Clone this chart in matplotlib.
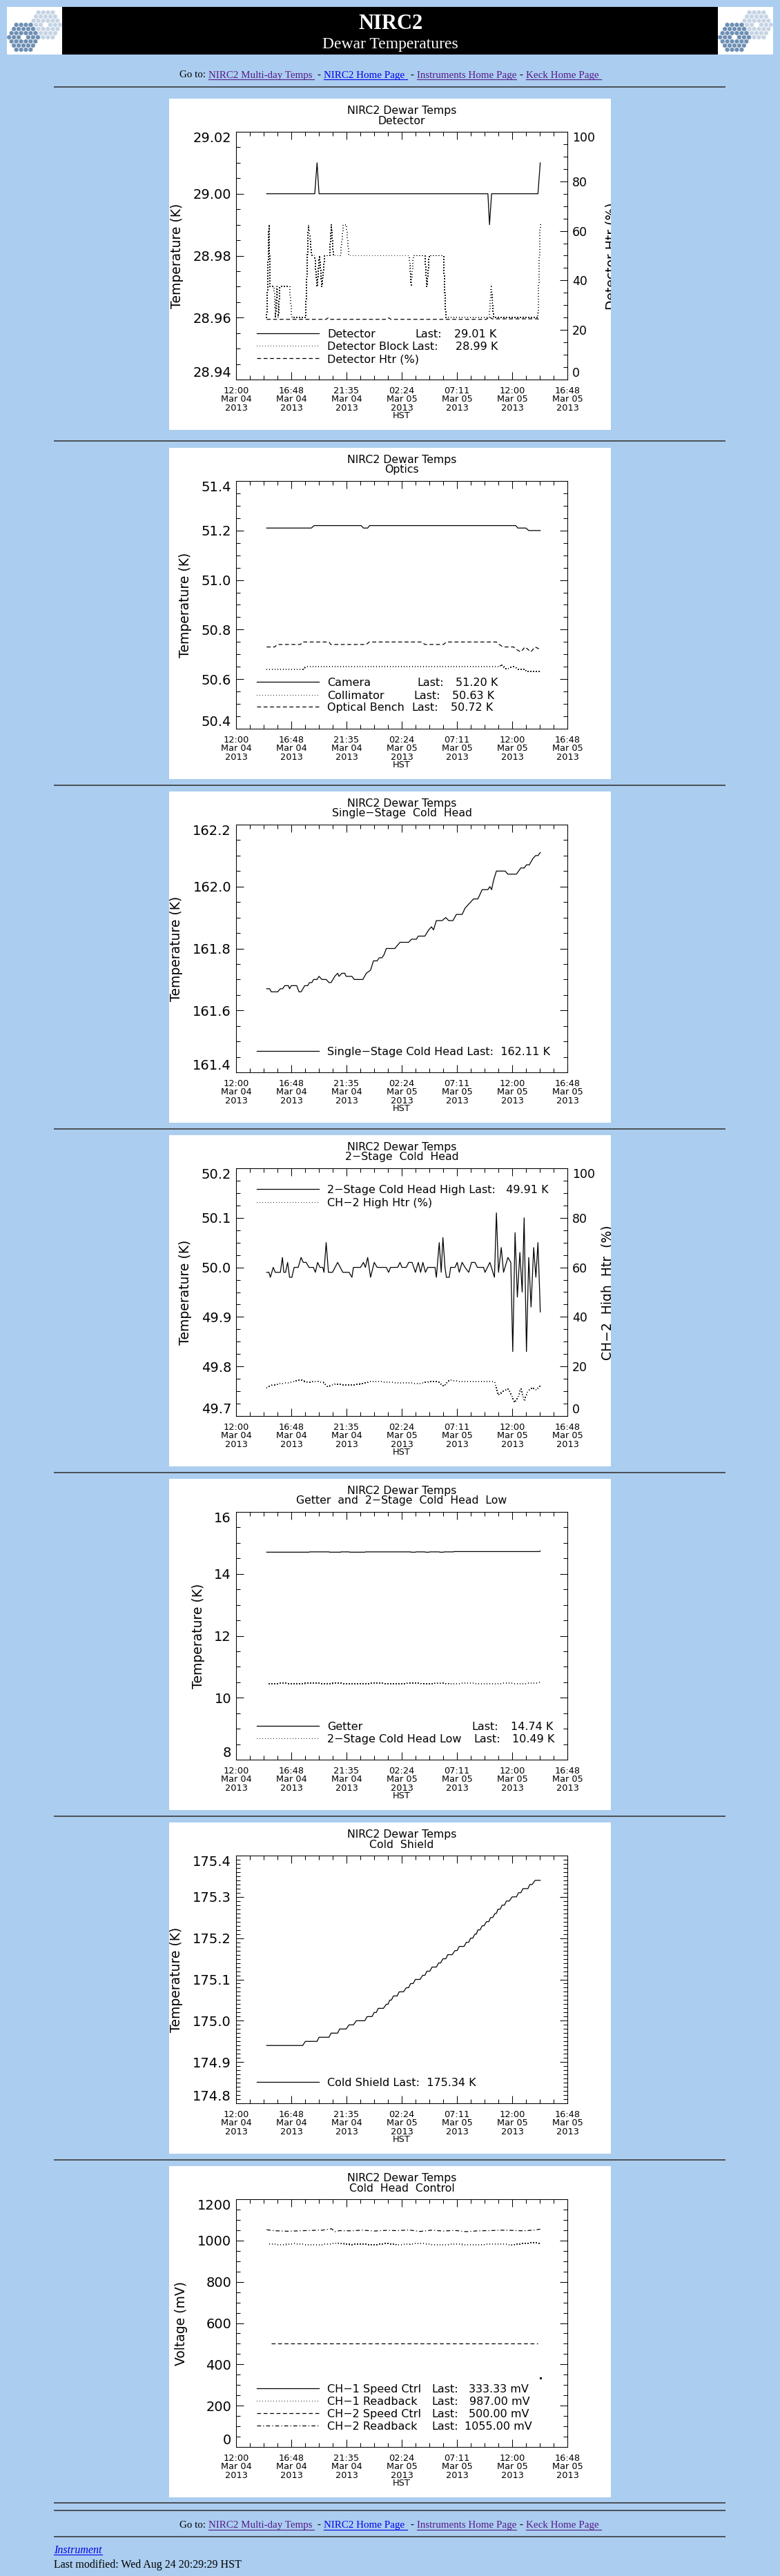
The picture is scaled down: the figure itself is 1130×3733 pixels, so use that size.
import matplotlib
matplotlib.use('Agg')
import matplotlib.pyplot as plt
from matplotlib.patches import Rectangle, RegularPolygon
from matplotlib.ticker import MultipleLocator

# ---- data (hours after 12:00 HST Mar 04 2013) ----
time_ticks = [0, 4.8, 9.6, 14.4, 19.2, 24.0, 28.8]
time_labels = ['12:00\nMar 04\n2013', '16:48\nMar 04\n2013', '21:35\nMar 04\n2013',
               '02:24\nMar 05\n2013', '07:11\nMar 05\n2013', '12:00\nMar 05\n2013',
               '16:48\nMar 05\n2013']
pct_ticks = [0, 20, 40, 60, 80, 100]

# Detector
det_t = [2.66, 6.84, 7.04, 7.21, 21.89, 22.03, 22.21, 26.24, 26.44]
det_v = [29.00, 29.00, 29.01, 29.00, 29.00, 28.99, 29.00, 29.00, 29.01]
blk_t = [2.66, 2.74, 2.86, 2.96, 3.31, 3.43, 3.56, 3.68, 3.81, 4.65, 4.85, 6.04, 6.29,
         6.59, 6.84, 7.04, 7.26, 7.46, 7.71, 8.13, 8.28, 8.46, 9.08, 9.33, 9.57, 9.82,
         15.05, 15.22, 15.42, 16.41, 16.59, 16.79, 18.03, 18.23, 22.01, 22.18, 22.38,
         26.24, 26.44]
blk_v = [28.96, 28.97, 28.99, 28.97, 28.97, 28.96, 28.97, 28.96, 28.97, 28.97, 28.96,
         28.96, 28.99, 28.98, 28.98, 28.97, 28.98, 28.97, 28.98, 28.98, 28.99, 28.98,
         28.98, 28.99, 28.99, 28.98, 28.98, 28.97, 28.98, 28.98, 28.97, 28.98, 28.98,
         28.96, 28.96, 28.97, 28.96, 28.96, 28.99]
dhtr_t = [2.66, 7.83, 8.03, 8.23, 13.06, 13.26, 13.46, 21.76, 22.01, 22.26, 26.24, 26.44]
dhtr_v = [24.3, 24.3, 25.0, 24.3, 24.3, 24.9, 24.3, 24.3, 25.3, 24.5, 24.5, 23.6]

# Optics
cam_t = [2.66, 6.54, 6.79, 10.87, 11.07, 11.44, 11.61, 24.30, 24.50, 25.19, 25.44, 26.44]
cam_v = [51.21, 51.21, 51.22, 51.22, 51.21, 51.21, 51.22, 51.22, 51.21, 51.21, 51.20, 51.20]
col_t = [2.66, 5.79, 6.09, 22.88, 23.05, 23.50, 24.00, 24.20, 24.50, 25.12, 25.29, 26.44]
col_v = [50.64, 50.64, 50.65, 50.65, 50.66, 50.64, 50.65, 50.65, 50.64, 50.64, 50.63, 50.63]
ob_t = [2.66, 3.36, 3.56, 5.60, 5.79, 8.08, 8.23, 11.32, 11.57, 16.17, 16.41, 18.03,
        18.28, 22.63, 22.88, 23.20, 24.12, 24.37, 24.75, 25.12, 25.37, 25.62, 25.99, 26.44]
ob_v = [50.73, 50.73, 50.74, 50.74, 50.75, 50.75, 50.74, 50.74, 50.75, 50.75, 50.74, 50.74,
        50.75, 50.75, 50.74, 50.73, 50.73, 50.72, 50.71, 50.73, 50.72, 50.71, 50.73, 50.72]

# Single-stage cold head
ss_t = [2.66, 2.91, 3.06, 3.61, 3.85, 4.05, 4.23, 4.55, 4.65, 4.80, 5.27, 5.47, 5.65,
        5.97, 6.22, 6.39, 6.59, 6.74, 7.04, 7.21, 7.46, 7.83, 8.08, 8.26, 8.58, 8.83,
        8.95, 9.20, 9.45, 9.57, 10.07, 10.27, 11.02, 11.32, 11.69, 11.94, 12.26, 12.44,
        12.68, 12.86, 13.06, 13.80, 14.25, 15.00, 15.25, 15.67, 15.84, 16.41, 16.74,
        16.99, 17.16, 17.41, 17.91, 18.23, 18.48, 18.85, 19.15, 19.65, 19.90, 20.14,
        20.39, 20.64, 21.02, 21.39, 21.89, 22.06, 22.21, 22.38, 22.63, 23.38, 23.63,
        24.37, 24.75, 25.04, 25.24, 25.49, 25.79, 26.04, 26.24, 26.44]
ss_v = [161.67, 161.67, 161.66, 161.66, 161.67, 161.67, 161.68, 161.68, 161.67, 161.68,
        161.68, 161.66, 161.66, 161.68, 161.68, 161.69, 161.69, 161.70, 161.70, 161.71,
        161.70, 161.70, 161.69, 161.69, 161.71, 161.72, 161.71, 161.72, 161.72, 161.71,
        161.71, 161.70, 161.70, 161.72, 161.73, 161.76, 161.76, 161.77, 161.77, 161.78,
        161.80, 161.80, 161.82, 161.82, 161.83, 161.83, 161.84, 161.84, 161.86, 161.87,
        161.86, 161.89, 161.89, 161.90, 161.89, 161.89, 161.91, 161.91, 161.93, 161.94,
        161.95, 161.96, 161.96, 161.99, 161.99, 162.00, 161.99, 162.02, 162.05, 162.05,
        162.04, 162.04, 162.06, 162.06, 162.07, 162.07, 162.09, 162.10, 162.10, 162.11]

# 2-stage cold head high
ch2_t = [2.66, 2.86, 2.98, 3.23, 3.41, 3.85, 4.03, 4.15, 4.30, 4.48, 4.65, 4.85, 5.05,
         5.40, 5.65, 5.84, 6.09, 6.34, 6.72, 6.89, 7.09, 7.29, 7.54, 7.64, 7.83, 8.03,
         8.38, 8.83, 9.28, 9.82, 10.07, 10.20, 10.82, 11.07, 11.24, 11.44, 11.69, 12.01,
         12.26, 13.06, 13.26, 13.43, 14.05, 14.25, 14.42, 14.80, 15.00, 15.30, 15.59,
         15.84, 16.04, 16.24, 16.46, 16.66, 17.29, 17.41, 17.66, 17.83, 17.98, 18.16,
         18.28, 18.53, 18.65, 19.03, 19.22, 19.40, 19.65, 19.90, 20.22, 20.47, 20.77,
         20.97, 21.51, 21.64, 22.06, 22.46, 22.63, 22.81, 23.05, 23.25, 23.63, 23.88,
         24.05, 24.25, 24.45, 24.67, 24.87, 25.04, 25.24, 25.44, 25.64, 25.87, 26.06,
         26.24, 26.39, 26.44]
ch2_v = [49.99, 49.99, 49.98, 50.00, 49.99, 49.99, 50.02, 49.99, 49.99, 50.01, 49.98,
         49.98, 50.00, 50.00, 50.02, 50.01, 50.01, 50.00, 50.00, 49.99, 50.01, 50.00,
         50.00, 49.99, 50.05, 49.99, 49.99, 50.01, 49.99, 49.99, 49.98, 50.00, 50.00,
         50.01, 50.00, 50.02, 49.98, 50.01, 50.00, 50.00, 49.99, 50.00, 50.00, 50.01,
         50.00, 50.00, 50.01, 50.01, 49.99, 50.01, 49.99, 50.01, 49.99, 50.00, 50.00,
         49.98, 50.05, 49.99, 50.06, 50.00, 49.98, 49.98, 50.00, 50.00, 50.01, 49.99,
         50.01, 50.00, 49.99, 50.01, 50.01, 50.00, 50.00, 49.99, 50.01, 49.98, 50.11,
         49.99, 50.04, 49.99, 50.02, 50.01, 49.83, 50.07, 49.94, 50.03, 49.95, 50.10,
         49.83, 50.02, 49.92, 50.04, 49.98, 50.05, 49.95, 49.91]
chh_t = [2.66, 3.11, 3.85, 4.60, 5.60, 6.22, 7.09, 7.59, 7.96, 8.70, 9.33, 10.07, 10.82,
         11.81, 12.81, 13.80, 14.80, 15.79, 16.79, 17.53, 18.03, 18.53, 19.52, 20.77,
         22.46, 22.76, 23.25, 23.63, 23.88, 24.20, 24.50, 24.75, 25.04, 25.37, 25.74,
         26.11, 26.44]
chh_v = [11.5, 12.5, 13.0, 13.5, 14.5, 13.7, 14.0, 13.5, 11.8, 13.0, 12.5, 12.5, 13.0,
         14.0, 13.8, 13.5, 13.5, 13.0, 13.8, 14.0, 12.0, 14.5, 14.0, 13.8, 13.8, 8.5,
         10.0, 11.0, 9.0, 5.5, 7.5, 11.0, 6.0, 10.0, 11.5, 10.5, 12.0]

# Getter and 2-stage cold head low
get_t = [2.66, 6.34, 6.39, 8.08, 8.13, 9.08, 9.13, 9.82, 9.87, 11.19, 11.24, 15.17,
         15.22, 15.59, 15.64, 16.41, 16.46, 16.79, 16.84, 17.66, 17.71, 18.03, 18.08,
         18.90, 18.95, 26.39, 26.44]
get_v = [14.70, 14.70, 14.71, 14.71, 14.70, 14.70, 14.71, 14.71, 14.70, 14.70, 14.71,
         14.71, 14.70, 14.70, 14.71, 14.71, 14.70, 14.70, 14.71, 14.71, 14.70, 14.70,
         14.71, 14.71, 14.72, 14.72, 14.74]
low_t = [2.86, 3.5, 4.2, 5.0, 5.8, 6.6, 7.4, 8.2, 9.0, 9.8, 10.6, 11.4, 12.2, 13.0, 13.8,
         14.6, 15.4, 16.2, 17.0, 17.8, 18.6, 19.4, 20.2, 21.0, 21.8, 22.6, 23.4, 24.2,
         25.0, 25.8, 26.44]
low_v = [10.45, 10.46, 10.47, 10.45, 10.46, 10.47, 10.46, 10.46, 10.47, 10.45, 10.46,
         10.46, 10.47, 10.46, 10.45, 10.46, 10.47, 10.46, 10.46, 10.47, 10.45, 10.46,
         10.47, 10.46, 10.46, 10.45, 10.47, 10.46, 10.46, 10.47, 10.49]

# Cold shield
cs_t = [2.66, 5.79, 6.02, 7.04, 7.21, 8.08, 8.26, 8.83, 9.00, 9.57, 9.82, 10.20, 10.45,
        11.19, 11.39, 11.81, 12.01, 12.19, 12.36, 12.81, 13.06, 13.21, 13.36, 13.50,
        13.68, 14.00, 14.18, 14.55, 14.80, 15.00, 15.17, 15.39, 15.59, 15.99, 16.22,
        16.41, 16.59, 16.84, 17.04, 17.41, 17.61, 17.78, 17.98, 18.23, 18.40, 18.78,
        19.03, 19.22, 19.40, 19.82, 20.02, 20.22, 20.39, 20.57, 20.77, 20.89, 21.02,
        21.21, 21.39, 21.56, 21.76, 21.96, 22.13, 22.31, 22.51, 22.63, 22.76, 22.95,
        23.13, 23.33, 23.50, 23.75, 24.00, 24.37, 24.55, 24.75, 24.94, 25.37, 25.54,
        25.74, 25.99, 26.44]
cs_v = [174.94, 174.94, 174.95, 174.95, 174.96, 174.96, 174.97, 174.97, 174.98, 174.98,
        174.99, 174.99, 175.00, 175.00, 175.01, 175.01, 175.02, 175.02, 175.03, 175.03,
        175.04, 175.04, 175.05, 175.05, 175.06, 175.06, 175.07, 175.07, 175.08, 175.08,
        175.09, 175.09, 175.10, 175.10, 175.11, 175.11, 175.12, 175.12, 175.13, 175.13,
        175.14, 175.14, 175.15, 175.15, 175.16, 175.16, 175.17, 175.17, 175.18, 175.18,
        175.19, 175.19, 175.20, 175.20, 175.21, 175.21, 175.22, 175.22, 175.23, 175.23,
        175.24, 175.24, 175.25, 175.25, 175.26, 175.26, 175.27, 175.27, 175.28, 175.28,
        175.29, 175.29, 175.30, 175.30, 175.31, 175.31, 175.32, 175.32, 175.33, 175.33,
        175.34, 175.34]

# Cold head control (mV)
c1s_t = [26.44]
c1s_v = [333.33]
c1r_t = [2.9, 4.0, 5.0, 6.0, 7.0, 8.0, 9.0, 10.0, 11.0, 12.0, 13.0, 14.0, 15.0, 16.0,
         17.0, 18.0, 19.0, 20.0, 21.0, 22.0, 23.0, 24.0, 25.0, 26.0, 26.44]
c1r_v = [983, 979, 985, 981, 978, 983, 987, 980, 984, 978, 986, 980, 982, 988, 981, 979,
         983, 980, 978, 982, 984, 979, 986, 989, 987]
c2s_t = [3.06, 26.24]
c2s_v = [500.0, 500.0]
c2r_t = [2.66, 3.5, 4.5, 5.5, 6.5, 7.5, 8.3, 8.6, 9.0, 10.0, 11.0, 12.0, 13.0, 14.0, 15.0,
         16.0, 17.0, 18.0, 19.0, 20.0, 21.0, 22.0, 23.0, 24.0, 25.0, 26.0, 26.44]
c2r_v = [1052, 1047, 1045, 1047, 1049, 1050, 1057, 1043, 1048, 1047, 1050, 1046, 1049,
         1048, 1051, 1044, 1050, 1046, 1049, 1043, 1047, 1048, 1050, 1049, 1047, 1051, 1055]

# ---- page layout (pixels) ----
W, H = 1130, 3733
BG = '#abcdef'
VISITED = '#551a8b'
LINK = '#0000ee'
SERIF = 'Liberation Serif'
PX = 245
TOPS = [143, 649, 1147, 1645, 2143, 2641, 3139]
LW = 0.9
DOT = (0, (1, 3))
DASH = (0, (4.5, 3))
DASHDOT = (0, (4.5, 2.5, 1, 2.5))
DOT_LW = 0.72
DOT_COLOR = '#202020'

plt.rcParams['font.family'] = ['DejaVu Sans']

fig = plt.figure(figsize=(W / 100, H / 100), dpi=100)
fig.patch.set_facecolor(BG)
page = fig.add_axes([0, 0, 1, 1])
page.set_xlim(0, W)
page.set_ylim(H, 0)
page.axis('off')


def frac(x, y, w, h):
    return [x / W, 1 - (y + h) / H, w / W, h / H]


def hr(y):
    page.plot([78, 1051], [y, y], color='#4a4f55', lw=1.4, solid_capstyle='butt')


def logo(x0):
    box = Rectangle((x0, 10), 80, 69, fc='white', ec='none')
    page.add_patch(box)
    a = 4.0
    for cx, cy, col in [(x0 + 56, 36, '#c5d4e4'), (x0 + 24, 54, '#6d8fb4')]:
        for q in range(-3, 4):
            for r in range(-3, 4):
                d = max(abs(q), abs(r), abs(q + r))
                if d == 0 or d > 3:
                    continue
                x = cx + 3 ** 0.5 * a * (q + r / 2)
                y = cy + 1.5 * a * r
                hx = RegularPolygon((x, y), 6, radius=a * 0.86, fc=col, ec='none')
                page.add_patch(hx)
                hx.set_clip_path(box)


def goto_line(base):
    fs = 10.8
    page.text(259.6, base, 'Go to:', family=SERIF, fontsize=fs, va='baseline')
    links = [('NIRC2 Multi-day Temps', 302, 455, VISITED),
             ('NIRC2 Home Page', 469, 590, LINK),
             ('Instruments Home Page', 604, 748, VISITED),
             ('Keck Home Page', 762, 871, VISITED)]
    prev = None
    for txt, x0, x1, col in links:
        if prev is not None:
            page.text((prev + x0) / 2, base, '-', family=SERIF, fontsize=fs,
                      ha='center', va='baseline')
        page.text(x0, base, txt, family=SERIF, fontsize=fs, color=col, va='baseline')
        page.plot([x0, x1], [base + 2.5, base + 2.5], color=col, lw=0.8)
        prev = x1


# header
logo(10)
logo(1040)
page.add_patch(Rectangle((90, 10), 950, 69, fc='black', ec='none'))
page.text(566, 41.7, 'NIRC2', family=SERIF, fontsize=22, weight='bold', color='white',
          ha='center', va='baseline')
page.text(565, 70, 'Dewar Temperatures', family=SERIF, fontsize=17, color='white',
          ha='center', va='baseline')
goto_line(112.5)
hr(125.7)


def make_panel(top, subtitle, ylim, yticks, yfmt, yminor, ylabel, ylabel_x):
    page.add_patch(Rectangle((PX, top), 640, 480, fc='white', ec='none'))
    cv = fig.add_axes(frac(PX, top, 640, 480))
    cv.set_xlim(0, 640)
    cv.set_ylim(480, 0)
    cv.axis('off')
    ax = fig.add_axes(frac(PX + 97, top + 48, 480, 359))
    ax.patch.set_visible(False)
    ax.set_xlim(0, 28.8)
    ax.set_xticks(time_ticks)
    ax.set_xticklabels(time_labels, fontsize=9.3, linespacing=0.95)
    ax.xaxis.set_minor_locator(MultipleLocator(1.2))
    ax.set_ylim(*ylim)
    ax.set_yticks(yticks)
    ax.set_yticklabels([yfmt % v for v in yticks], fontsize=14)
    ax.yaxis.set_minor_locator(MultipleLocator(yminor))
    ax.tick_params(which='both', direction='in', top=True, right=True, width=0.75)
    ax.tick_params(which='major', length=8)
    ax.tick_params(which='minor', length=4)
    ax.tick_params(axis='x', pad=7)
    ax.tick_params(axis='y', pad=5)
    labs = ax.get_yticklabels()
    labs[0].set_va('bottom')
    labs[-1].set_va('top')
    for s in ax.spines.values():
        s.set_linewidth(0.75)
    cv.text(337, 17.5, 'NIRC2 Dewar Temps', fontsize=11.3, ha='center', va='center')
    cv.text(337, 32, subtitle, fontsize=11.3, ha='center', va='center')
    cv.text(337, 460, 'HST', fontsize=9.3, ha='center', va='center')
    cv.text(ylabel_x, 228, ylabel, fontsize=13.5, rotation=90, ha='center', va='center')
    return cv, ax


def add_right(ax, cv, label, lx):
    ax2 = ax.twinx()
    ax2.set_ylim(0, 100)
    ax2.set_yticks(pct_ticks)
    ax2.set_yticklabels([str(v) for v in pct_ticks], fontsize=12.5)
    ax2.yaxis.set_minor_locator(MultipleLocator(5))
    ax2.tick_params(which='both', direction='in', width=0.75, pad=5)
    ax2.tick_params(which='major', length=8)
    ax2.tick_params(which='minor', length=4)
    labs = ax2.get_yticklabels()
    labs[0].set_va('bottom')
    labs[-1].set_va('top')
    for s in ax2.spines.values():
        s.set_linewidth(0.75)
    ax.tick_params(which='both', right=False)
    # the label runs off the 640 px plot image, so clip it to the image
    t = cv.text(lx, 228, label, fontsize=13.5, rotation=90, ha='center', va='center',
                clip_on=True)
    t.set_clip_box(cv.bbox)
    t.set_clip_path(Rectangle((0, 0), 640, 480, transform=cv.transData))
    return ax2


def line(ax, t, v, ls='-'):
    if ls == DOT:
        ax.plot(t, v, color=DOT_COLOR, lw=DOT_LW, ls=DOT, antialiased=False)
    else:
        ax.plot(t, v, color='black', lw=LW, ls=ls)


def legend_row(cv, y, ls, parts):
    line(cv, [127, 217], [y, y], ls)
    for x, s in parts:
        cv.text(x, y, s, fontsize=11.5, va='center_baseline')


# 1 Detector
cv, ax = make_panel(TOPS[0], 'Detector', (28.94, 29.02), [28.94, 28.96, 28.98, 29.00, 29.02],
                    '%.2f', 0.005, 'Temperature (K)', 11.6)
ax2 = add_right(ax, cv, 'Detector Htr (%)', 641)
line(ax, det_t, det_v)
line(ax, blk_t, blk_v, DOT)
line(ax2, dhtr_t, dhtr_v, DASH)
legend_row(cv, 340, '-', [(229, 'Detector'), (356, 'Last:'), (413, '29.01 K')])
legend_row(cv, 358, DOT, [(229, 'Detector Block'), (351, 'Last:'), (415, '28.99 K')])
legend_row(cv, 376, DASH, [(229, 'Detector Htr (%)')])
hr(639)

# 2 Optics
cv, ax = make_panel(TOPS[1], 'Optics', (50.4, 51.4), [50.4, 50.6, 50.8, 51.0, 51.2, 51.4],
                    '%.1f', 0.05, 'Temperature (K)', 24)
line(ax, cam_t, cam_v)
line(ax, col_t, col_v, DOT)
line(ax, ob_t, ob_v, DASH)
legend_row(cv, 339, '-', [(229, 'Camera'), (359, 'Last:'), (415, '51.20 K')])
legend_row(cv, 358, DOT, [(229, 'Collimator'), (354, 'Last:'), (410, '50.63 K')])
legend_row(cv, 375, DASH, [(229, 'Optical Bench'), (351, 'Last:'), (408, '50.72 K')])
hr(1138)

# 3 Single-stage cold head
cv, ax = make_panel(TOPS[2], 'Single\u2212Stage  Cold  Head', (161.4, 162.2),
                    [161.4, 161.6, 161.8, 162.0, 162.2], '%.1f', 0.05, 'Temperature (K)', 10.5)
line(ax, ss_t, ss_v)
legend_row(cv, 376, '-', [(229, 'Single\u2212Stage Cold Head Last:  162.11 K')])
hr(1636)

# 4 2-stage cold head
cv, ax = make_panel(TOPS[3], '2\u2212Stage  Cold  Head', (49.7, 50.2),
                    [49.7, 49.8, 49.9, 50.0, 50.1, 50.2], '%.1f', 0.025, 'Temperature (K)', 24)
ax2 = add_right(ax, cv, 'CH\u22122  High  Htr  (%)', 636)
line(ax, ch2_t, ch2_v)
line(ax2, chh_t, chh_v, DOT)
legend_row(cv, 78, '-', [(229, '2\u2212Stage Cold Head High Last:   49.91 K')])
legend_row(cv, 97, DOT, [(229, 'CH\u22122 High Htr (%)')])
hr(2134)

# 5 Getter and 2-stage cold head low
cv, ax = make_panel(TOPS[4], 'Getter  and  2\u2212Stage  Cold  Head  Low', (8, 16),
                    [8, 10, 12, 14, 16], '%d', 0.5, 'Temperature (K)', 42.7)
line(ax, get_t, get_v)
line(ax, low_t, low_v, DOT)
legend_row(cv, 358, '-', [(229, 'Getter'), (438, 'Last:'), (495, '14.74 K')])
legend_row(cv, 376, DOT, [(229, '2\u2212Stage Cold Head Low'), (441, 'Last:'),
                          (497, '10.49 K')])
hr(2632)

# 6 Cold shield
cv, ax = make_panel(TOPS[5], 'Cold  Shield', (174.8, 175.4),
                    [174.8, 174.9, 175.0, 175.1, 175.2, 175.3, 175.4], '%.1f', 0.01,
                    'Temperature (K)', 10.5)
line(ax, cs_t, cs_v)
legend_row(cv, 376, '-', [(229, 'Cold Shield Last:  175.34 K')])
hr(3130)

# 7 Cold head control
cv, ax = make_panel(TOPS[6], 'Cold  Head  Control', (0, 1200),
                    [0, 200, 400, 600, 800, 1000, 1200], '%d', 50, 'Voltage (mV)', 17.8)
ax.plot(c1s_t, c1s_v, color='black', marker='s', ms=1.2, ls='none')
line(ax, c1r_t, c1r_v, DOT)
line(ax, c2s_t, c2s_v, DASH)
line(ax, c2r_t, c2r_v, DASHDOT)
legend_row(cv, 322, '-', [(229, 'CH\u22121 Speed Ctrl'), (380, 'Last:'), (434, '333.33 mV')])
legend_row(cv, 340, DOT, [(229, 'CH\u22121 Readback'), (380, 'Last:'), (435, '987.00 mV')])
legend_row(cv, 358, DASH, [(229, 'CH\u22122 Speed Ctrl'), (380, 'Last:'), (434, '500.00 mV')])
legend_row(cv, 376, DASHDOT, [(229, 'CH\u22122 Readback'), (380, 'Last:'),
                              (428, '1055.00 mV')])

# footer
hr(3627)
hr(3638)
goto_line(3663)
hr(3676)
page.text(78, 3700, 'Instrument', family=SERIF, fontsize=11.5, style='italic', color=LINK,
          va='baseline')
page.plot([78, 148], [3702, 3702], color=LINK, lw=0.8)
page.text(78, 3720.7, 'Last modified: Wed Aug 24 20:29:29 HST', family=SERIF, fontsize=11.5,
          va='baseline')

fig.savefig('out.png', dpi=100, facecolor=BG)
